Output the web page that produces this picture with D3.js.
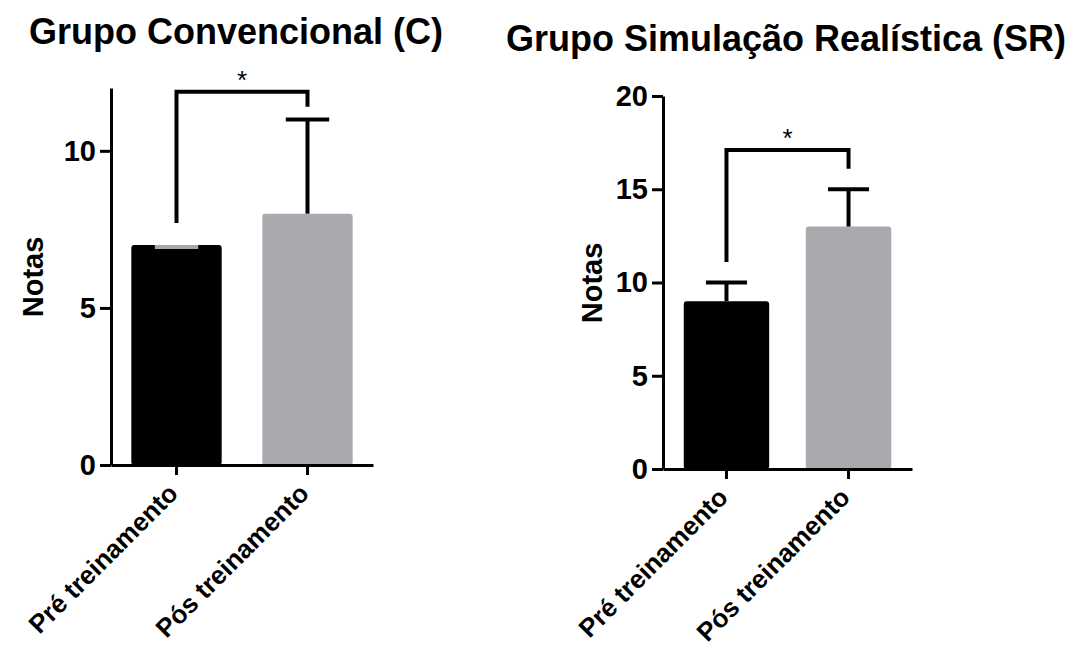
<!DOCTYPE html>
<html>
<head>
<meta charset="utf-8">
<script src="https://cdn.jsdelivr.net/npm/d3@7"></script>
<style>
  body { margin: 0; background: #fff; }
  svg text { font-family: Arial, "Liberation Sans", Helvetica, sans-serif; fill: #000; }
</style>
</head>
<body>
<svg id="chart" width="1069" height="652"></svg>
<script>

// DATA -----------------------------------------------------------------------

var categories = ["Pré treinamento", "Pós treinamento"];
var titles = ["Grupo Convencional (C)", "Grupo Simulação Realística (SR)"];
var yLabel = "Notas";

var convMeans = [7, 8];     // grupo convencional
var convSD = [0, 3];
var simMeans = [9, 13];     // grupo simulação realística
var simSD = [1, 2];

var convTicks = [0, 5, 10];
var simTicks = [0, 5, 10, 15, 20];

// significance bracket: [top, left leg end, right leg end]
var convBracket = [11.88, 7.7, 11.4];
var simBracket = [17.1, 11.1, 16.1];

var barColors = ["#000000", "#aaa9ad"];


// DRAWING --------------------------------------------------------------------

var svg = d3.select("#chart");

/** Draws one GraphPad style bar panel. */
function drawPanel(p) {
    var g = svg.append("g");

    var y = d3.scaleLinear().domain(p.domain).range([p.bottom, p.top]);
    var x = d3.scaleBand().domain(categories)
        .range([p.left, p.right])
        .paddingInner(p.padIn).paddingOuter(p.padOut);

    // bars
    g.selectAll(".bar").data(p.means).enter()
        .append("rect")
        .attr("x", function(d, i) { return x(categories[i]); })
        .attr("y", function(d) { return y(d); })
        .attr("width", x.bandwidth())
        .attr("height", function(d) { return y(0) - y(d); })
        .attr("rx", 3)
        .attr("fill", function(d, i) { return barColors[i]; });

    // error bars (upper only)
    var cap = x.bandwidth() * 0.24;
    p.means.forEach(function(m, i) {
        var cx = x(categories[i]) + x.bandwidth() / 2;
        var col = p.errColors[i];
        var off = p.sd[i] == 0 ? 2 : 0; // zero SD: cap sits just inside the bar
        g.append("line")
            .attr("x1", cx).attr("x2", cx)
            .attr("y1", y(m)).attr("y2", y(m + p.sd[i]))
            .attr("stroke", col).attr("stroke-width", 4);
        g.append("line")
            .attr("x1", cx - cap).attr("x2", cx + cap)
            .attr("y1", y(m + p.sd[i]) + off)
            .attr("y2", y(m + p.sd[i]) + off)
            .attr("stroke", col).attr("stroke-width", 4);
    });

    // axes
    var yAxis = d3.axisLeft(y).tickValues(p.ticks).tickSize(11).tickSizeOuter(0).tickPadding(4);
    var gy = g.append("g").attr("transform", "translate(" + p.left + ",0)").call(yAxis);
    var xAxis = d3.axisBottom(x).tickSize(10).tickSizeOuter(0).tickFormat("");
    var gx = g.append("g").attr("transform", "translate(0," + p.bottom + ")").call(xAxis);
    [gy, gx].forEach(function(a) {
        a.selectAll("path, line").attr("stroke", "#000").attr("stroke-width", 3);
    });
    gy.selectAll("text")
        .attr("font-size", 29).attr("font-weight", "bold")
        .attr("font-family", "Arial, 'Liberation Sans', sans-serif")
        .attr("fill", "#000");

    // rotated category labels
    g.selectAll(".xlab").data(categories).enter()
        .append("text")
        .attr("transform", function(d) {
            return "translate(" + (x(d) + x.bandwidth() / 2 + 3) + "," + (p.bottom + 30) + ") rotate(-45)";
        })
        .attr("text-anchor", "end")
        .attr("font-size", 26)
        .attr("font-weight", "bold")
        .text(function(d) { return d; });

    // y label
    g.append("text")
        .attr("transform", "translate(" + p.labelX + "," + p.labelY + ") rotate(-90)")
        .attr("text-anchor", "middle")
        .attr("font-size", 29).attr("font-weight", "bold")
        .text(yLabel);

    // title
    g.append("text")
        .attr("x", p.titleX).attr("y", p.titleY)
        .attr("text-anchor", "middle")
        .attr("font-size", 36).attr("font-weight", "bold")
        .text(p.title);

    // significance bracket
    var c0 = x(categories[0]) + x.bandwidth() / 2;
    var c1 = x(categories[1]) + x.bandwidth() / 2;
    var b = p.bracket;
    g.append("path")
        .attr("d", "M" + c0 + "," + y(b[1]) + "V" + y(b[0]) + "H" + c1 + "V" + y(b[2]))
        .attr("fill", "none").attr("stroke", "#000").attr("stroke-width", 4);
    g.append("text")
        .attr("x", (c0 + c1) / 2).attr("y", y(b[0]) - 3)
        .attr("text-anchor", "middle")
        .attr("font-size", 26)
        .text("*");
}

drawPanel({
    title: titles[0], titleX: 236, titleY: 44,
    means: convMeans, sd: convSD, errColors: ["#a8a8a8", "#000"],
    domain: [0, 12], ticks: convTicks, bracket: convBracket,
    left: 111, right: 373, top: 88, bottom: 465,
    padIn: 0.31, padOut: 0.155,
    labelX: 43, labelY: 277
});

drawPanel({
    title: titles[1], titleX: 786, titleY: 51,
    means: simMeans, sd: simSD, errColors: ["#000", "#000"],
    domain: [0, 20], ticks: simTicks, bracket: simBracket,
    left: 663, right: 912, top: 96, bottom: 469,
    padIn: 0.30, padOut: 0.17,
    labelX: 602, labelY: 283
});

</script>
</body>
</html>
